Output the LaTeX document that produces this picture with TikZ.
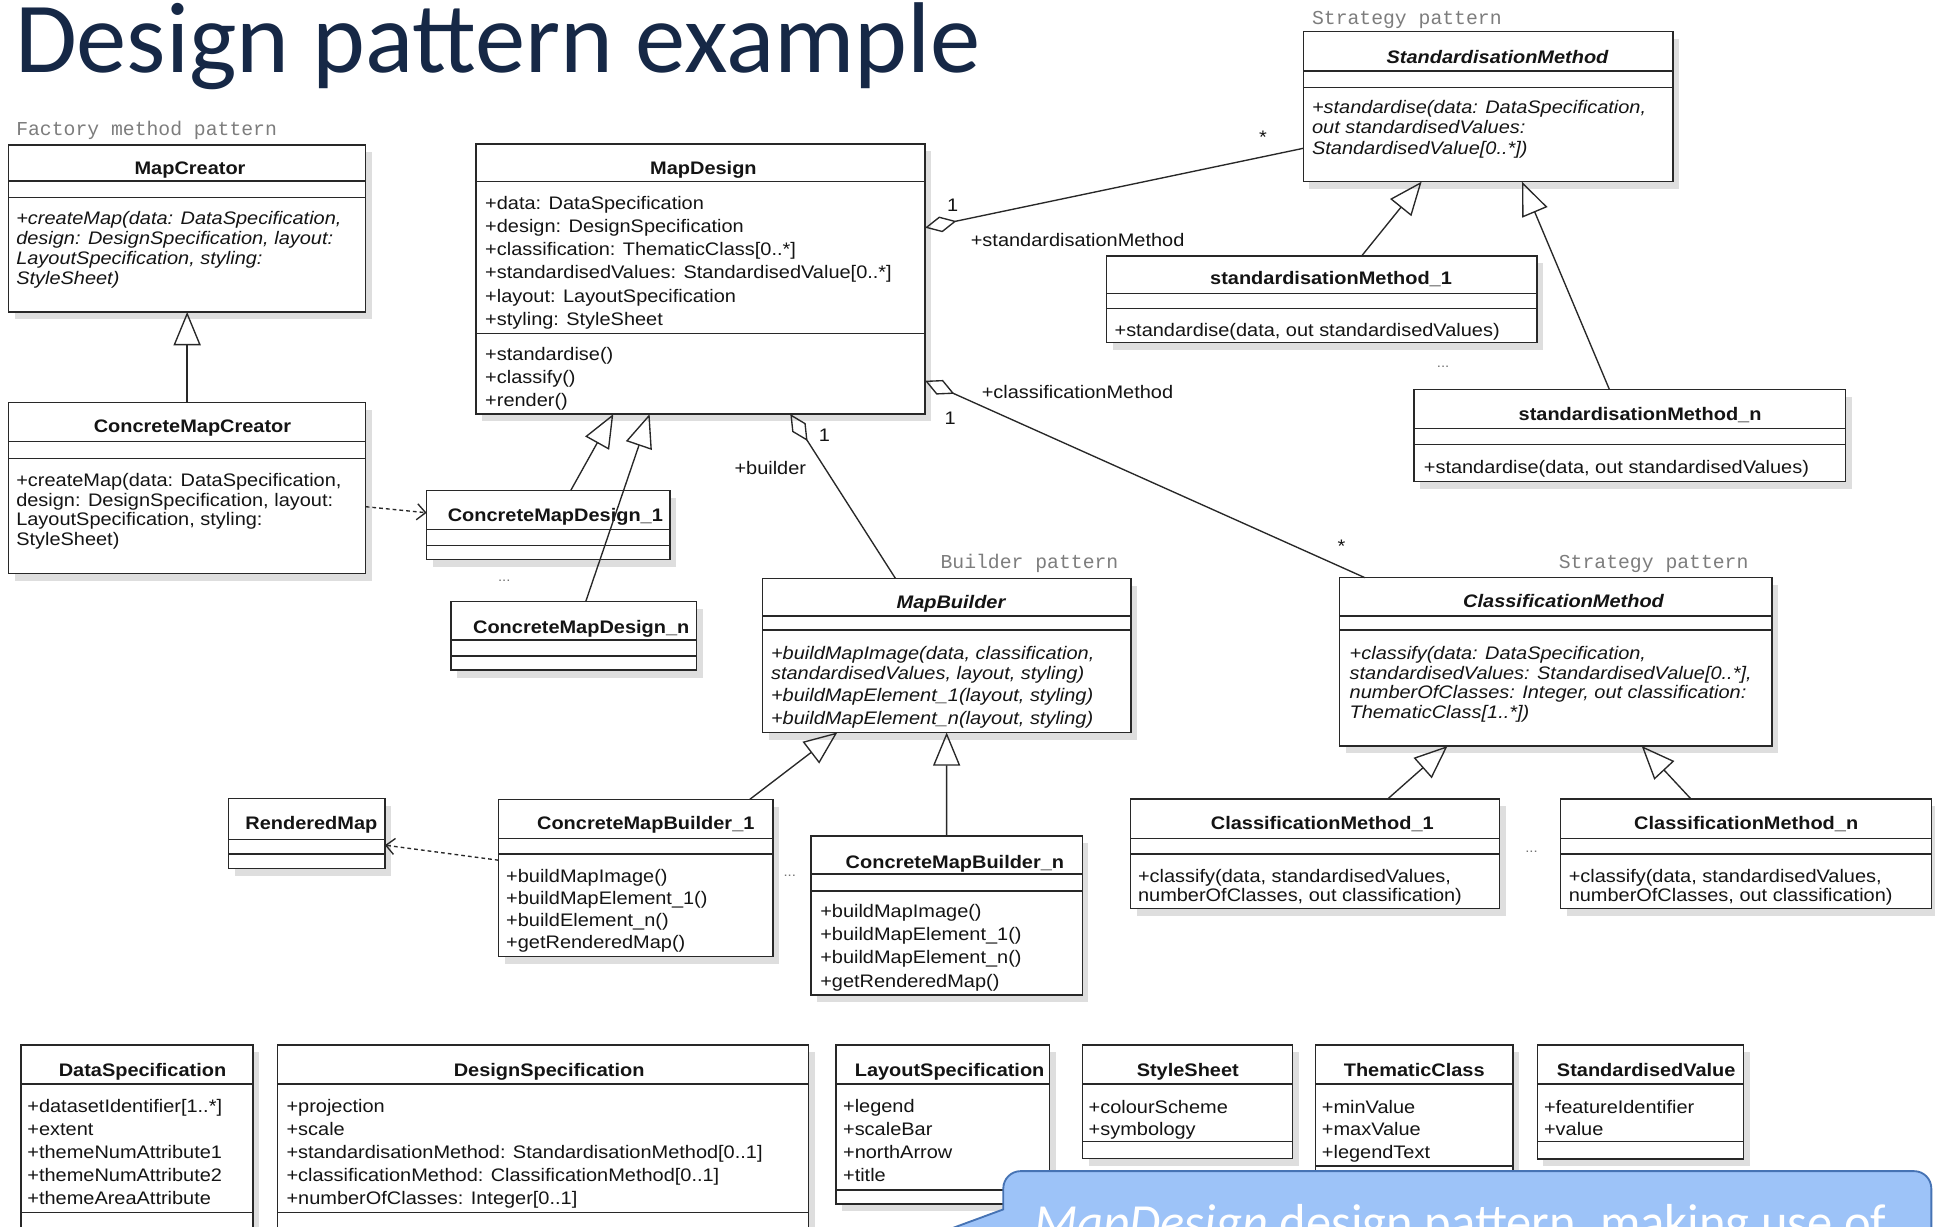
\documentclass[tikz,border=0pt]{standalone}
\usepackage{fontspec}
\usetikzlibrary{arrows.meta,shadows,calc}
\newfontfamily\umlfont[FakeStretch=1.1]{Liberation Sans}
\newfontfamily\patfont{Liberation Mono}
\newfontfamily\calfont{Carlito}
\definecolor{umlline}{RGB}{40,40,40}
\definecolor{umltext}{RGB}{20,20,20}
\definecolor{titleblue}{RGB}{22,40,70}
\definecolor{patgray}{RGB}{125,125,125}
\definecolor{calloutfill}{RGB}{157,195,248}
\definecolor{calloutdraw}{RGB}{70,115,180}
\tikzset{
  umlbx/.style={draw=umlline, line width=1.1pt, fill=white, inner sep=0pt, outer sep=0pt,
    drop shadow={shadow xshift=5pt, shadow yshift=-6pt, fill=black!25}},
  umlsep/.style={draw=umlline, line width=1.1pt},
  umltxt/.style={anchor=base west, inner sep=0pt, text=umltext, font=\umlfont\fontsize{14.7}{17}\selectfont},
  umlit/.style={font=\umlfont\itshape\fontsize{14.7}{17}\selectfont},
  umlttl/.style={anchor=base, inner sep=0pt, text=umltext, font=\umlfont\bfseries\fontsize{14.7}{17}\selectfont},
  umlttlit/.style={font=\umlfont\bfseries\itshape\fontsize{14.7}{17}\selectfont},
  umllbl/.style={anchor=base west, inner sep=0pt, text=umltext, font=\umlfont\fontsize{14.7}{17}\selectfont},
  pattxt/.style={anchor=base west, inner sep=0pt, text=patgray, font=\patfont\fontsize{16}{18}\selectfont},
  elips/.style={anchor=base, inner sep=0pt, text=black!55, font=\umlfont\fontsize{11}{12}\selectfont},
  genline/.style={draw=umlline, line width=1.1pt, -{Triangle[open, length=27pt, width=22pt, line width=1.1pt]}},
  aggline/.style={draw=umlline, line width=1.1pt, {Diamond[open, length=26pt, width=13pt, line width=1.1pt]}-},
  depline/.style={draw=umlline, line width=1.1pt, dash pattern=on 3pt off 2.5pt, -{Straight Barb[length=7pt, width=13pt, line width=1.1pt]}},
}
% box: name, x1, y1, x2, y2, separator 1, separator 2
\newcommand\umlbox[7]{%
  \node[umlbx, minimum width={(#4-#2)*1pt}, minimum height={(#5-#3)*1pt}, anchor=north west] (#1) at (#2,#3) {};
  \draw[umlsep] (#2,#6) -- (#4,#6);
  \draw[umlsep] (#2,#7) -- (#4,#7);
}
% lines of text: prefix, x, first centre y, spacing, style, list
\newcommand\umllines[6]{%
  \foreach \txt [count=\nn] in {#6} {%
    \node[umltxt,#5] (#1\nn) at (#2,{#3+(\nn-1)*#4+5.3}) {\txt};
  }}
\begin{document}
\begin{tikzpicture}[x=1pt,y=-1pt]
\useasboundingbox (0,0) rectangle (1568,994);
\clip (0,0) rectangle (1568,994);
\fill[white] (0,0) rectangle (1568,994);

% title
\node[anchor=base west, inner sep=0pt, text=titleblue, font=\calfont\fontsize{81.5}{90}\selectfont] (title) at (12,59) {Design pattern example};

% pattern labels
\node[pattxt] (patfactory) at (13,109.5) {Factory method pattern};
\node[pattxt] (patstrat1) at (1063,19.5) {Strategy pattern};
\node[pattxt] (patbuilder) at (762,461) {Builder pattern};
\node[pattxt] (patstrat2) at (1263,461) {Strategy pattern};

% boxes
\umlbox{mc}{7}{117.5}{296.3}{252.8}{146.7}{160.2}
\umlbox{cmc}{7}{326.3}{296.3}{464.6}{357.9}{371.4}
\umlbox{md}{385.7}{116.7}{749.6}{335.5}{147.2}{270.1}
\umlbox{cmdA}{345.7}{397.6}{543}{453.3}{428.9}{442.2}
\umlbox{cmdN}{365.4}{487.6}{564.6}{543}{518.6}{531.6}
\umlbox{mb}{618}{468.7}{916.5}{593.5}{499.2}{510.5}
\umlbox{rm}{185.3}{647}{311.9}{703.7}{680.1}{692}
\umlbox{cmbA}{404}{647.8}{626.3}{775.3}{679.4}{692}
\umlbox{cmbN}{657.2}{677.5}{877}{806.3}{708.3}{722}
\umlbox{cm}{1085.6}{468.1}{1435.8}{604.5}{499.2}{510.5}
\umlbox{cmA}{916}{647.5}{1215}{736}{679.4}{692}
\umlbox{cmN}{1264.7}{647.5}{1565.4}{736}{679.4}{692}
\umlbox{sm}{1056}{25.7}{1355.6}{147.2}{57.5}{71}
\umlbox{smA}{896.6}{207.5}{1245.4}{277.7}{237.7}{249.9}
\umlbox{smN}{1145.8}{315.5}{1495.6}{390.3}{347.1}{360}
\umlbox{ds}{17}{846.8}{205}{1010}{878.5}{982.7}
\umlbox{dsp}{225}{846.8}{655.3}{1010}{878.5}{982.7}
\umlbox{ls}{677.3}{846.8}{850.4}{975.7}{878.5}{964.3}
\umlbox{ss}{877.4}{846.8}{1047.3}{938.7}{878.5}{924.8}
\umlbox{tc}{1065.8}{846.8}{1226.1}{960}{878.5}{944.9}
\umlbox{sv}{1245.7}{846.8}{1413}{939.2}{878.5}{925.2}

% titles
\node[umlttl] (mcT) at (154,141.7) {MapCreator};
\node[umlttl] (cmcT) at (156,350.5) {ConcreteMapCreator};
\node[umlttl] (mdT) at (570,141) {MapDesign};
\node[umlttl] (cmdAT) at (450,422.6) {ConcreteMapDesign\_1};
\node[umlttl] (cmdNT) at (471,513.1) {ConcreteMapDesign\_n};
\node[umlttl,umlttlit] (mbT) at (770.6,492.9) {MapBuilder};
\node[umlttl] (rmT) at (252.3,672.5) {RenderedMap};
\node[umlttl] (cmbAT) at (523.3,672.5) {ConcreteMapBuilder\_1};
\node[umlttl] (cmbNT) at (773.8,703.6) {ConcreteMapBuilder\_n};
\node[umlttl,umlttlit] (cmT) at (1267,492.1) {ClassificationMethod};
\node[umlttl] (cmAT) at (1071.5,672.5) {ClassificationMethod\_1};
\node[umlttl] (cmNT) at (1415,672.5) {ClassificationMethod\_n};
\node[umlttl,umlttlit] (smT) at (1213.5,51.2) {StandardisationMethod};
\node[umlttl] (smAT) at (1078.6,230.8) {standardisationMethod\_1};
\node[umlttl] (smNT) at (1329,341.1) {standardisationMethod\_n};
\node[umlttl] (dsT) at (115.5,872.4) {DataSpecification};
\node[umlttl] (dspT) at (445,872.4) {DesignSpecification};
\node[umlttl] (lsT) at (769.5,872.4) {LayoutSpecification};
\node[umlttl] (ssT) at (962.5,872.4) {StyleSheet};
\node[umlttl] (tcT) at (1146,872.4) {ThematicClass};
\node[umlttl] (svT) at (1334,872.4) {StandardisedValue};

% compartments text
\umllines{mcm}{13}{176.9}{16.2}{umlit}{{+createMap(data: DataSpecification,},{design: DesignSpecification, layout:},{LayoutSpecification, styling:},{StyleSheet)}}
\umllines{cmcm}{13}{389}{15.8}{}{{+createMap(data: DataSpecification,},{design: DesignSpecification, layout:},{LayoutSpecification, styling:},{StyleSheet)}}
\umllines{mda}{393}{164.2}{18.85}{}{{+data: DataSpecification},{+design: DesignSpecification},{+classification: ThematicClass[0..*]},{+standardisedValues: StandardisedValue[0..*]},{+layout: LayoutSpecification},{+styling: StyleSheet}}
\umllines{mdm}{393}{286.9}{18.6}{}{{+standardise()},{+classify()},{+render()}}
\umllines{mbm}{624.6}{529.4}{15.7}{umlit}{{+buildMapImage(data, classification,},{standardisedValues, layout, styling)}}
\umllines{mbn}{624.6}{563.5}{18.6}{umlit}{{+buildMapElement\_1(layout, styling)},{+buildMapElement\_n(layout, styling)}}
\umllines{cmbAm}{410}{709.5}{17.8}{}{{+buildMapImage()},{+buildMapElement\_1()},{+buildElement\_n()},{+getRenderedMap()}}
\umllines{cmbNm}{664.5}{738}{18.9}{}{{+buildMapImage()},{+buildMapElement\_1()},{+buildMapElement\_n()},{+getRenderedMap()}}
\umllines{cmm}{1093.5}{529}{16}{umlit}{{+classify(data: DataSpecification,},{standardisedValues: StandardisedValue[0..*],},{numberOfClasses: Integer, out classification:},{ThematicClass[1..*])}}
\umllines{cmAm}{922}{709.5}{16}{}{{+classify(data, standardisedValues,},{numberOfClasses, out classification)}}
\umllines{cmNm}{1271}{709.5}{16}{}{{+classify(data, standardisedValues,},{numberOfClasses, out classification)}}
\umllines{smm}{1063}{87}{16.25}{umlit}{{+standardise(data: DataSpecification,},{out standardisedValues:},{StandardisedValue[0..*])}}
\umllines{smAm}{903}{267.4}{16}{}{{+standardise(data, out standardisedValues)}}
\umllines{smNm}{1153.6}{378.2}{16}{}{{+standardise(data, out standardisedValues)}}
\umllines{dsa}{22}{896}{18.75}{}{{+datasetIdentifier[1..*]},{+extent},{+themeNumAttribute1},{+themeNumAttribute2},{+themeAreaAttribute}}
\umllines{dspa}{232}{896}{18.75}{}{{+projection},{+scale},{+standardisationMethod: StandardisationMethod[0..1]},{+classificationMethod: ClassificationMethod[0..1]},{+numberOfClasses: Integer[0..1]}}
\umllines{lsa}{683}{896}{18.6}{}{{+legend},{+scaleBar},{+northArrow},{+title}}
\umllines{ssa}{882}{896.8}{18.4}{}{{+colourScheme},{+symbology}}
\umllines{tca}{1071}{896.8}{18.4}{}{{+minValue},{+maxValue},{+legendText}}
\umllines{sva}{1251}{896.8}{18.4}{}{{+featureIdentifier},{+value}}

% ellipses
\node[elips] (dotsA) at (408.6,471) {...};
\node[elips] (dotsB) at (1169.4,298) {...};
\node[elips] (dotsC) at (640,710) {...};
\node[elips] (dotsD) at (1241,691) {...};

% connectors
\draw[genline] (cmc.north) -- (mc.south);
\draw[depline] ([yshift=-15.15pt]cmc.east) -- ([yshift=9.95pt]cmdA.west);
\draw[genline] ([xshift=116.7pt]cmdA.north west) -- ([xshift=111.3pt]md.south west);
\draw[genline] ([xshift=109.2pt]cmdN.north west) -- ([xshift=140.7pt]md.south west);
\draw[aggline] ([xshift=254.7pt]md.south west) -- ([xshift=107.6pt]mb.north west);
\draw[aggline] ([yshift=-67.8pt]md.north east) -- ([yshift=-94.5pt]sm.north west);
\draw[aggline] ([yshift=-191.8pt]md.north east) -- ([xshift=20.4pt]cm.north west);
\draw[genline] ([xshift=206.7pt]smA.north west) -- ([xshift=96pt]sm.south west);
\draw[genline] ([xshift=158.3pt]smN.north west) -- ([xshift=177.3pt]sm.south west);
\draw[genline] ([xshift=203.5pt]cmbA.north west) -- ([xshift=60.5pt]mb.south west);
\draw[genline] ([xshift=109.9pt]cmbN.north west) -- ([xshift=149.1pt]mb.south west);
\draw[depline] ([yshift=14.5pt]cmbA.west) -- ([yshift=-9.5pt]rm.east);
\draw[genline] ([xshift=208.4pt]cmA.north west) -- ([xshift=87.4pt]cm.south west);
\draw[genline] ([xshift=105.6pt]cmN.north west) -- ([xshift=244.7pt]cm.south west);

% association labels
\node[umllbl, anchor=base] (mulA) at (772,171.3) {1};
\node[umllbl, anchor=base] (mulB) at (1023.5,116) {*};
\node[umllbl] (roleA) at (786.5,199.8) {+standardisationMethod};
\node[umllbl, anchor=base] (mulC) at (770,344.3) {1};
\node[umllbl, anchor=base] (mulD) at (1087,448) {*};
\node[umllbl] (roleB) at (795.4,322.7) {+classificationMethod};
\node[umllbl, anchor=base] (mulE) at (668,357.8) {1};
\node[umllbl] (roleC) at (595,384.8) {+builder};

% callout
\draw[fill=calloutfill, draw=calloutdraw, line width=1.5pt]
  (813,980) [rounded corners=14pt] -- (813,949) -- (1565,949) [sharp corners] -- (1565,1040) -- (830,1040) -- (700,1021.6) -- cycle;
\node[anchor=base west, inner sep=0pt, text=white, font=\calfont\fontsize{41}{48}\selectfont] (callouttext) at (838,1004) {\textit{MapDesign} design pattern, making use of};
\end{tikzpicture}
\end{document}
